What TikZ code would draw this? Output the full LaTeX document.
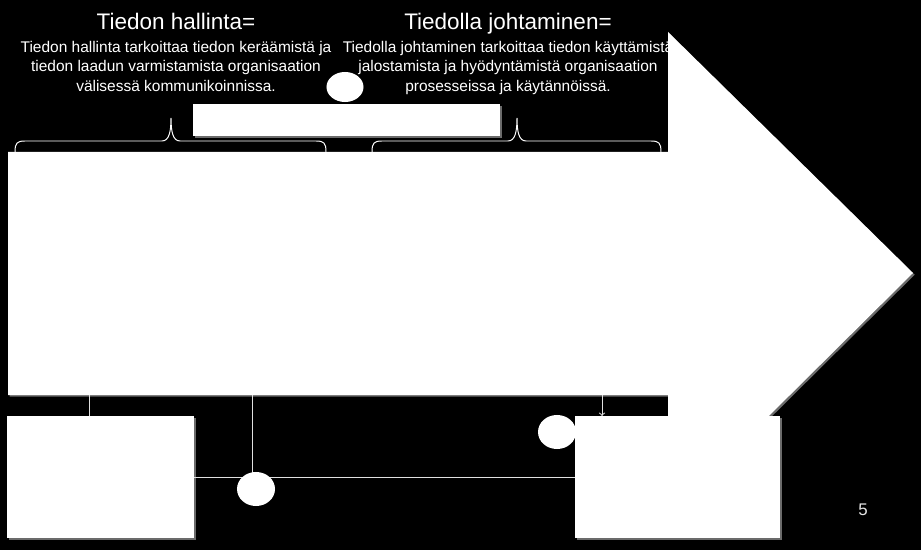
\documentclass[tikz,border=0pt]{standalone}
\usepackage{fontspec}
\setmainfont{Liberation Sans}
\usetikzlibrary{arrows,shapes.geometric,shadows}

\begin{document}
\begin{tikzpicture}[x=0.025cm,y=-0.025cm]
\tikzstyle{every node}=[inner sep=0pt, outer sep=0pt]
\tikzstyle{glow}=[drop shadow={fill=gray!80, opacity=0.7, shadow xshift=1.2pt, shadow yshift=-1.2pt}]
\tikzstyle{headtxt}=[text=white, font=\fontsize{16}{19}\selectfont]
\tikzstyle{bodytxt}=[text=white, align=center, font=\fontsize{11}{13.8}\selectfont]
\tikzstyle{whitebox}=[rectangle, fill=white, glow]
\tikzstyle{blob}=[ellipse, fill=white, minimum width=0.95cm, minimum height=0.85cm]
\tikzstyle{link}=[draw=white!88!black, line width=0.7pt]
\tikzstyle{curl}=[draw=white, line width=0.7pt]
\fill[black] (0,0) rectangle (921,550);
% texts over the arrow
\draw (176,30) node (lhead) [anchor=base, headtxt] {Tiedon hallinta=};
\draw (176,41) node (ltext) [anchor=north, bodytxt] {Tiedon hallinta tarkoittaa tiedon keräämistä ja\\tiedon laadun varmistamista organisaation\\välisessä kommunikoinnissa.};
\draw (508,30) node (rhead) [anchor=base, headtxt] {Tiedolla johtaminen=};
\draw (508,41) node (rtext) [anchor=north, bodytxt] {Tiedolla johtaminen tarkoittaa tiedon käyttämistä\\jalostamista ja hyödyntämistä organisaation\\prosesseissa ja käytännöissä.};
% the arrow
\fill[white, glow] (8,152) -- (668,152) -- (668,32) -- (913,273) -- (668,516) -- (668,395) -- (8,395) -- cycle;
\coordinate (a1) at (89,395);
\coordinate (a2) at (252,395);
\coordinate (a3) at (602,395);
% braces
\draw[curl] (15,152) .. controls (15,143) and (17,141) .. (25,141) -- (162,141)
  .. controls (169,141) and (171,132) .. (171,118) .. controls (171,132) and (173,141) .. (180,141)
  -- (316,141) .. controls (324,141) and (326,143) .. (326,152);
\draw[curl] (372,152) .. controls (372,143) and (374,141) .. (382,141) -- (508,141)
  .. controls (515,141) and (517,132) .. (517,118) .. controls (517,132) and (519,141) .. (526,141)
  -- (651,141) .. controls (659,141) and (661,143) .. (661,152);
\draw (346.5,120) node (bar) [whitebox, minimum width=7.675cm, minimum height=0.8cm] {};
\draw (345,87) node (tblob) [blob, minimum width=0.925cm, minimum height=0.75cm] {};
% boxes below
\draw (100.5,477) node (lbox) [whitebox, minimum width=4.675cm, minimum height=3.05cm] {};
\draw (677.5,477) node (rbox) [whitebox, minimum width=5.125cm, minimum height=3.05cm] {};
\draw[link] (a1) -- (a1 |- lbox.north);
\draw[link] (a2) -- (a2 |- lbox.east);
\draw[link] (lbox.east) -- (rbox.west);
\draw[link, ->] (a3) -- (a3 |- rbox.north);
\draw (256,489) node (lblob) [blob] {};
\draw (557,432) node (rblob) [blob] {};
\draw (863,510) node (pageno) [text=white!90!black, font=\fontsize{12}{14}\selectfont] {5};
\end{tikzpicture}
\end{document}
